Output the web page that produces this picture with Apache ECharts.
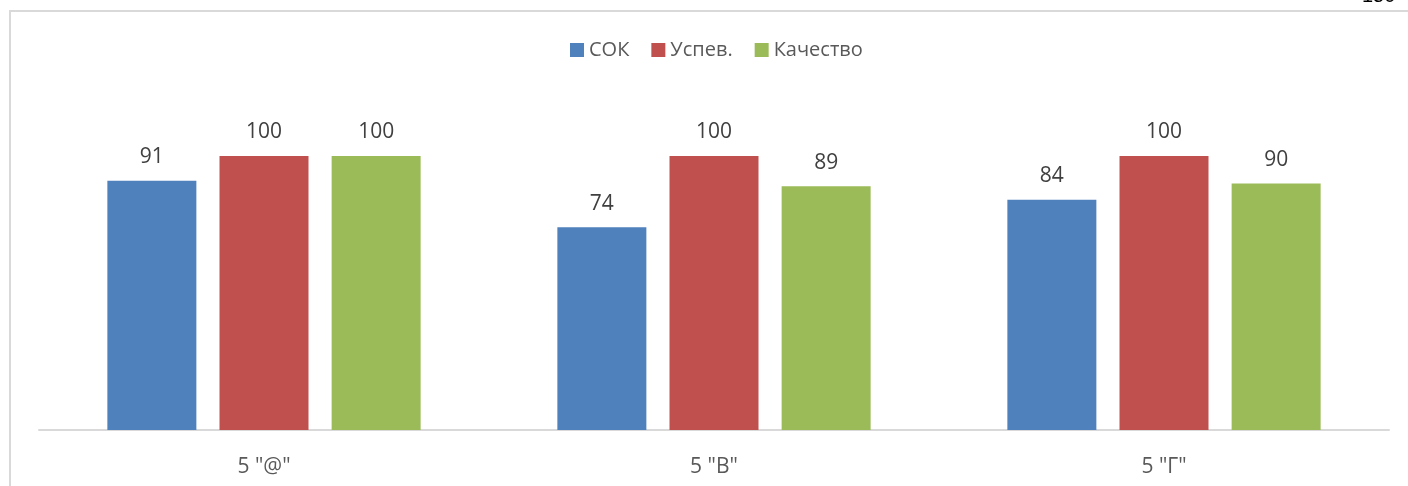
<!DOCTYPE html>
<html>
<head>
<meta charset="utf-8">
<script src="https://cdn.jsdelivr.net/npm/echarts@6/dist/echarts.min.js"></script>
<style>
  html, body { margin: 0; padding: 0; background: #fff; }
  #chart { width: 1408px; height: 486px; }
</style>
</head>
<body>
<div id="chart"></div>
<script>
// данные диаграммы
var categories = ['5 "@"', '5 "В"', '5 "Г"'];
var sokData = [91, 74, 84];
var uspevData = [100, 100, 100];
var kachData = [100, 89, 90];

var chart = echarts.init(document.getElementById("chart"));

var labelStyle = {
  show: true,
  position: "top",
  distance: 13,
  color: "#404040",
  fontSize: 21,
  fontFamily: "Open Sans",
};

var option = {
  animation: false,
  color: ["#4F81BD", "#C0504D", "#9BBB59"],
  legend: {
    top: 35,
    left: 565,
    itemWidth: 14,
    itemHeight: 14,
    itemGap: 22,
    icon: "rect",
    textStyle: { color: "#595959", fontSize: 20, fontFamily: "Open Sans" },
    data: ["СОК", "Успев.", "Качество"],
  },
  grid: { left: 39, right: 19, top: 156, bottom: 56 },
  xAxis: {
    type: "category",
    data: categories,
    axisLine: { lineStyle: { color: "#d9d9d9", width: 2 } },
    axisTick: { show: false },
    axisLabel: {
      color: "#595959",
      fontSize: 21,
      fontFamily: "Open Sans",
      margin: 27,
    },
  },
  yAxis: {
    type: "value",
    min: 0,
    max: 100,
    show: false,
    splitLine: { show: false },
  },
  series: [
    { name: "СОК", type: "bar", data: sokData, barWidth: 89, barGap: "26%", label: labelStyle },
    { name: "Успев.", type: "bar", data: uspevData, barWidth: 89, barGap: "26%", label: labelStyle },
    { name: "Качество", type: "bar", data: kachData, barWidth: 89, barGap: "26%", label: labelStyle },
  ],
  graphic: [
    // рамка области диаграммы
    { type: "line", shape: { x1: 10, y1: 11, x2: 10, y2: 486 }, style: { stroke: "#d9d9d9", lineWidth: 2 } },
    { type: "line", shape: { x1: 9, y1: 11, x2: 1408, y2: 11 }, style: { stroke: "#d9d9d9", lineWidth: 2 } },
    // номер страницы, обрезанный сверху
    { type: "text", left: 1362, top: -14, style: { text: "150", fill: "#000", fontSize: 20, fontFamily: "Liberation Sans" } },
  ],
};

chart.setOption(option);
</script>
</body>
</html>
